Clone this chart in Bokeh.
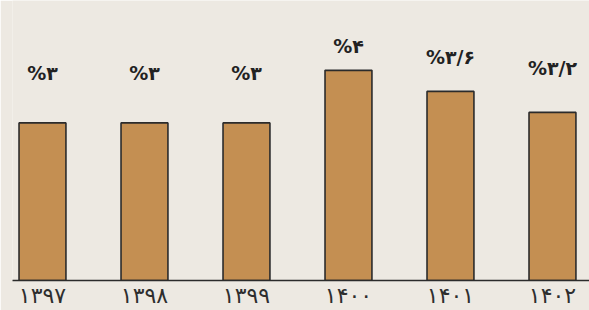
from bokeh.plotting import figure
from bokeh.models import ColumnDataSource, FixedTicker, Range1d
from bokeh.core.properties import value
from bokeh.embed import file_html
from bokeh.resources import INLINE

years = ["۱۳۹۷", "۱۳۹۸", "۱۳۹۹", "۱۴۰۰", "۱۴۰۱", "۱۴۰۲"]
rates = [3.0, 3.0, 3.0, 4.0, 3.6, 3.2]
rate_labels = ["%۳", "%۳", "%۳", "%۴", "%۳/۶", "%۳/۲"]

BG = "#ede9e2"
BAR = "#c48f52"
INK = "#2b2b2b"

xs = list(range(len(years)))
label_y = [2.385 + 0.519 * r for r in rates]
src = ColumnDataSource(dict(x=xs, top=rates, lab=rate_labels, ly=label_y))

p = figure(width=589, height=310, output_backend="svg", toolbar_location=None,
           x_range=Range1d(-0.294, 5.363), y_range=Range1d(0, 5.33),
           min_border_left=12, min_border_right=0, min_border_top=0, min_border_bottom=0)
p.background_fill_color = BG
p.border_fill_color = BG
p.outline_line_color = None
p.grid.visible = False
p.yaxis.visible = False

p.vbar(x="x", top="top", bottom=0, width=0.46, source=src,
       fill_color=BAR, line_color=INK, line_width=1.6)

p.text(x="x", y="ly", text="lab", source=src, text_align="center",
       text_baseline="middle", text_font=value("DejaVu Sans"),
       text_font_style="bold", text_font_size="19px", text_color="#222222")

ax = p.xaxis[0]
ax.ticker = FixedTicker(ticks=xs)
ax.major_label_overrides = {i: y for i, y in enumerate(years)}
ax.major_tick_line_color = None
ax.minor_tick_line_color = None
ax.axis_line_color = INK
ax.axis_line_width = 1.6
ax.major_label_text_font = "DejaVu Sans"
ax.major_label_text_font_size = "22px"
ax.major_label_text_color = "#2e2e2e"
ax.major_label_standoff = -4

html = file_html(p, INLINE)
open("out.html", "w").write(html)
